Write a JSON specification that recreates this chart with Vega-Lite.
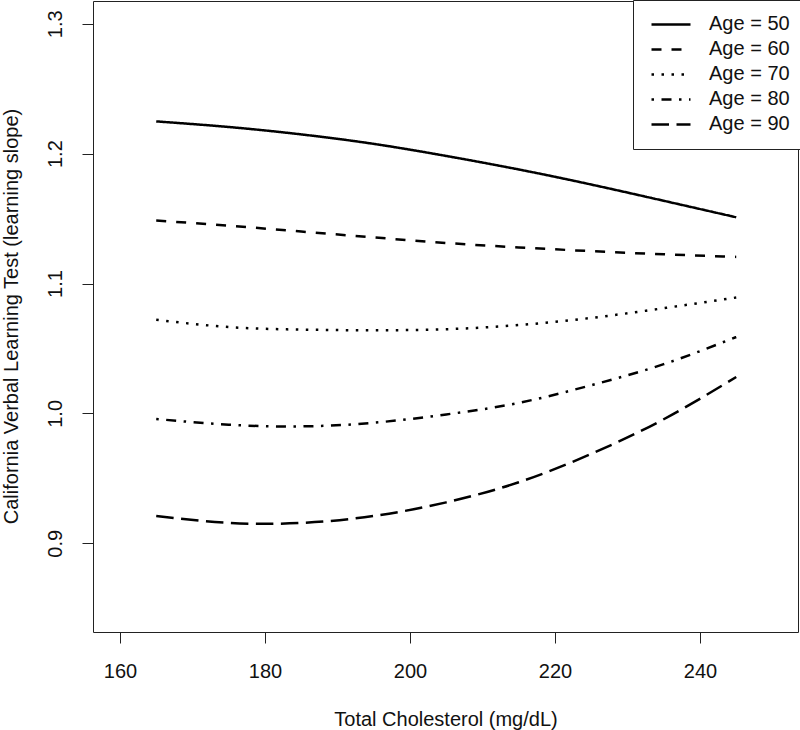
{
  "$schema": "https://vega.github.io/schema/vega-lite/v6.json",
  "width": 705,
  "height": 631,
  "autosize": "none",
  "padding": {"left": 93, "top": 1, "right": 2, "bottom": 98},
  "background": "white",
  "config": {
    "view": {"stroke": "#222222", "strokeWidth": 1},
    "font": "Liberation Sans",
    "axis": {
      "domain": false,
      "grid": false,
      "tickColor": "#222222",
      "tickSize": 11,
      "tickWidth": 1,
      "labelFontSize": 20,
      "labelColor": "#111111",
      "titleFontSize": 20,
      "titleFontWeight": "normal",
      "titleColor": "#111111",
      "labelFont": "Liberation Sans",
      "titleFont": "Liberation Sans"
    }
  },
  "data": {
    "values": [
      {"chol": 165, "slope": 1.2248, "age": "Age = 50"},
      {"chol": 175, "slope": 1.2205, "age": "Age = 50"},
      {"chol": 185, "slope": 1.2148, "age": "Age = 50"},
      {"chol": 195, "slope": 1.2075, "age": "Age = 50"},
      {"chol": 205, "slope": 1.1982, "age": "Age = 50"},
      {"chol": 215, "slope": 1.1878, "age": "Age = 50"},
      {"chol": 225, "slope": 1.1762, "age": "Age = 50"},
      {"chol": 235, "slope": 1.1637, "age": "Age = 50"},
      {"chol": 245, "slope": 1.1510, "age": "Age = 50"},
      {"chol": 165, "slope": 1.1485, "age": "Age = 60"},
      {"chol": 175, "slope": 1.1445, "age": "Age = 60"},
      {"chol": 185, "slope": 1.1400, "age": "Age = 60"},
      {"chol": 195, "slope": 1.1355, "age": "Age = 60"},
      {"chol": 205, "slope": 1.1312, "age": "Age = 60"},
      {"chol": 215, "slope": 1.1278, "age": "Age = 60"},
      {"chol": 225, "slope": 1.1249, "age": "Age = 60"},
      {"chol": 235, "slope": 1.1225, "age": "Age = 60"},
      {"chol": 245, "slope": 1.1205, "age": "Age = 60"},
      {"chol": 165, "slope": 1.0721, "age": "Age = 70"},
      {"chol": 175, "slope": 1.0665, "age": "Age = 70"},
      {"chol": 185, "slope": 1.0645, "age": "Age = 70"},
      {"chol": 195, "slope": 1.0640, "age": "Age = 70"},
      {"chol": 205, "slope": 1.0648, "age": "Age = 70"},
      {"chol": 215, "slope": 1.0680, "age": "Age = 70"},
      {"chol": 225, "slope": 1.0735, "age": "Age = 70"},
      {"chol": 235, "slope": 1.0810, "age": "Age = 70"},
      {"chol": 245, "slope": 1.0892, "age": "Age = 70"},
      {"chol": 165, "slope": 0.9957, "age": "Age = 80"},
      {"chol": 175, "slope": 0.9913, "age": "Age = 80"},
      {"chol": 185, "slope": 0.9900, "age": "Age = 80"},
      {"chol": 195, "slope": 0.9928, "age": "Age = 80"},
      {"chol": 205, "slope": 0.9992, "age": "Age = 80"},
      {"chol": 215, "slope": 1.0081, "age": "Age = 80"},
      {"chol": 225, "slope": 1.0217, "age": "Age = 80"},
      {"chol": 235, "slope": 1.0379, "age": "Age = 80"},
      {"chol": 245, "slope": 1.0588, "age": "Age = 80"},
      {"chol": 165, "slope": 0.9210, "age": "Age = 90"},
      {"chol": 175, "slope": 0.9157, "age": "Age = 90"},
      {"chol": 185, "slope": 0.9157, "age": "Age = 90"},
      {"chol": 195, "slope": 0.9210, "age": "Age = 90"},
      {"chol": 205, "slope": 0.9315, "age": "Age = 90"},
      {"chol": 215, "slope": 0.9470, "age": "Age = 90"},
      {"chol": 225, "slope": 0.9688, "age": "Age = 90"},
      {"chol": 235, "slope": 0.9955, "age": "Age = 90"},
      {"chol": 245, "slope": 1.0280, "age": "Age = 90"}
    ]
  },
  "mark": {"type": "line", "color": "black", "strokeWidth": 2.5, "interpolate": "natural", "strokeCap": "butt"},
  "encoding": {
    "x": {
      "field": "chol",
      "type": "quantitative",
      "scale": {"domain": [156.28, 253.52], "nice": false, "zero": false},
      "axis": {
        "values": [160, 180, 200, 220, 240],
        "title": "Total Cholesterol (mg/dL)",
        "labelBaseline": "alphabetic",
        "labelPadding": 34,
        "titleBaseline": "alphabetic",
        "titleY": 93
      }
    },
    "y": {
      "field": "slope",
      "type": "quantitative",
      "scale": {"domain": [0.8317, 1.3175], "nice": false, "zero": false},
      "axis": {
        "values": [0.9, 1.0, 1.1, 1.2, 1.3],
        "format": ".1f",
        "title": "California Verbal Learning Test (learning slope)",
        "labelAngle": -90,
        "labelAlign": "center",
        "labelBaseline": "alphabetic",
        "labelPadding": 21,
        "titleAngle": -90,
        "titleBaseline": "alphabetic",
        "titleAlign": "center",
        "titleX": -76,
        "titleY": 315
      }
    },
    "strokeDash": {
      "field": "age",
      "type": "nominal",
      "scale": {
        "domain": ["Age = 50", "Age = 60", "Age = 70", "Age = 80", "Age = 90"],
        "range": [[1, 0], [10, 10], [2.5, 7.5], [2.5, 7.5, 10, 7.5], [17.5, 7.5]]
      },
      "legend": {
        "title": null,
        "orient": "none",
        "legendX": 540,
        "legendY": -1,
        "strokeColor": "#222222",
        "fillColor": "white",
        "padding": 12,
        "symbolType": "stroke",
        "symbolSize": 1521,
        "symbolStrokeWidth": 2.5,
        "symbolStrokeColor": "black",
        "symbolOffset": 5,
        "labelFontSize": 20,
        "labelColor": "#111111",
        "labelFont": "Liberation Sans",
        "labelOffset": 17,
        "clipHeight": 24.75,
        "rowPadding": 0
      }
    }
  }
}
